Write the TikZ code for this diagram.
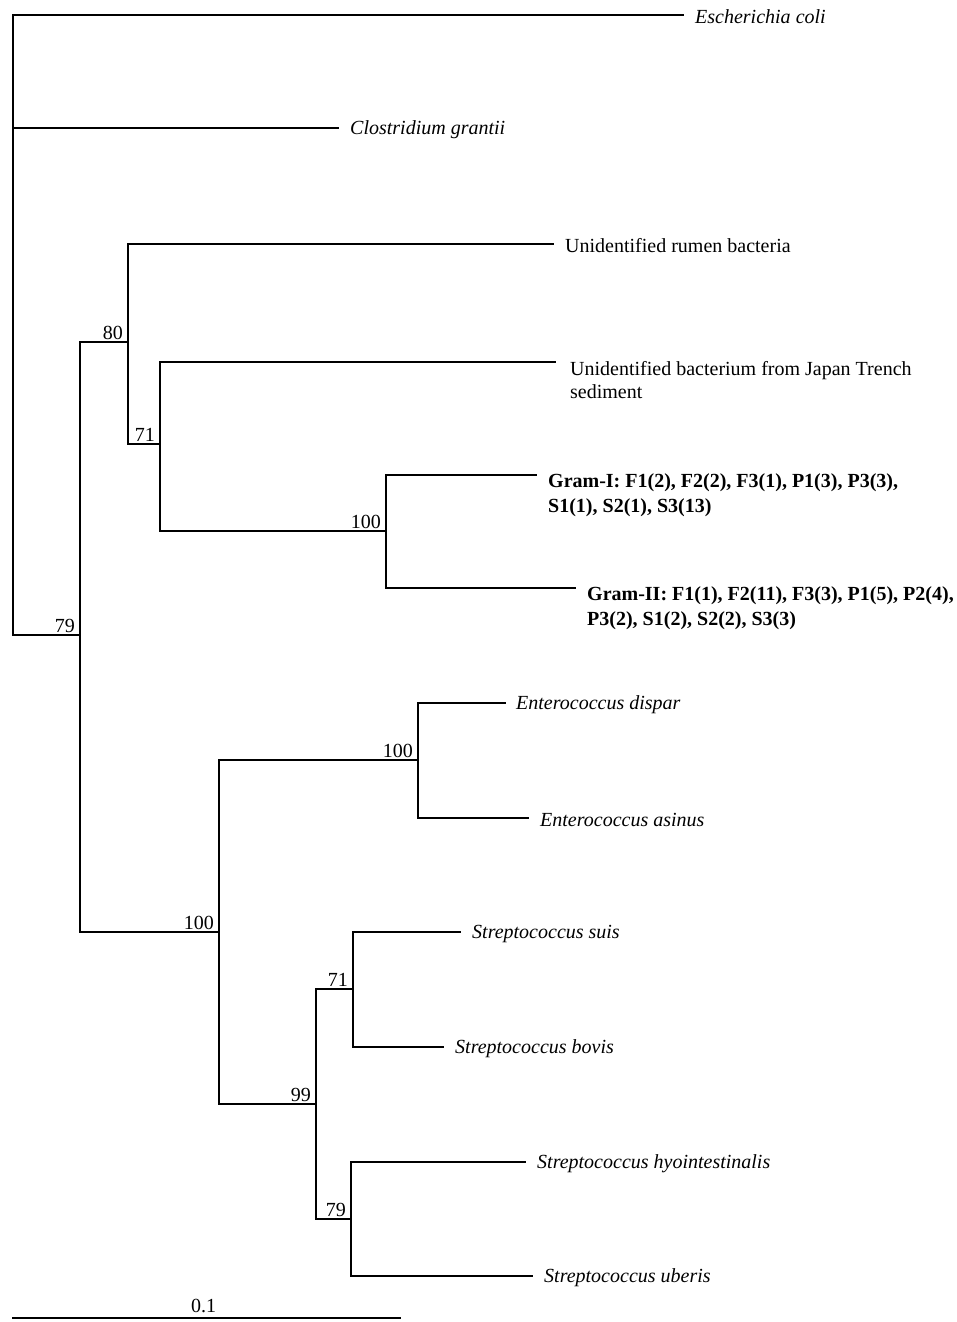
\documentclass[tikz,border=0pt]{standalone}
\usepackage{fontspec}
\setmainfont{Liberation Serif}
\usetikzlibrary{calc}
\begin{document}
\begin{tikzpicture}[x=1pt,y=-1pt,
  br/.style={line width=2pt,line cap=rect},
  leaf/.style={anchor=west,inner sep=0pt,font=\fontsize{20}{23}\selectfont},
  leafi/.style={leaf,font=\fontsize{20}{23}\selectfont\itshape},
  leafm/.style={leaf,align=left,anchor=north west},
  leafb/.style={leaf,font=\fontsize{20}{25}\selectfont\bfseries,align=left,anchor=north west},
  boot/.style={anchor=base east,inner sep=0pt,font=\fontsize{20}{22}\selectfont}]
\useasboundingbox (0,0) rectangle (957,1322);
% internal nodes
\coordinate (root) at (13,325);
\coordinate (n79) at (80,635);
\coordinate (n80) at (128,342);
\coordinate (n71) at (160,444);
\coordinate (ng) at (386,531);
\coordinate (n100) at (219,932);
\coordinate (ne) at (418,760);
\coordinate (n99) at (316,1104);
\coordinate (n71b) at (353,989);
\coordinate (n79b) at (351,1219);
% tips
\coordinate (tEc) at (683,15);
\coordinate (tCg) at (338,128);
\coordinate (tRu) at (553,244);
\coordinate (tJt) at (555,362);
\coordinate (tG1) at (536,475);
\coordinate (tG2) at (575,588);
\coordinate (tEd) at (505,703);
\coordinate (tEa) at (528,818);
\coordinate (tSs) at (460,932);
\coordinate (tSb) at (443,1047);
\coordinate (tSh) at (525,1162);
\coordinate (tSu) at (532,1276);
% branches
\draw[br] (root) |- (tEc);
\draw[br] (root) |- (tCg);
\draw[br] (root) |- (n79);
\draw[br] (n79) |- (n80);
\draw[br] (n79) |- (n100);
\draw[br] (n80) |- (tRu);
\draw[br] (n80) |- (n71);
\draw[br] (n71) |- (tJt);
\draw[br] (n71) |- (ng);
\draw[br] (ng) |- (tG1);
\draw[br] (ng) |- (tG2);
\draw[br] (n100) |- (ne);
\draw[br] (n100) |- (n99);
\draw[br] (ne) |- (tEd);
\draw[br] (ne) |- (tEa);
\draw[br] (n99) |- (n71b);
\draw[br] (n99) |- (n79b);
\draw[br] (n71b) |- (tSs);
\draw[br] (n71b) |- (tSb);
\draw[br] (n79b) |- (tSh);
\draw[br] (n79b) |- (tSu);
% leaf labels
\node[leafi] (lEc) at ([xshift=12pt,yshift=-2pt]tEc) {Escherichia coli};
\node[leafi] (lCg) at ([xshift=12pt,yshift=-2pt]tCg) {Clostridium grantii};
\node[leaf] (lRu) at ([xshift=12pt,yshift=-2pt]tRu) {Unidentified rumen bacteria};
\node[leafm] (lJt) at ([xshift=15pt,yshift=1pt]tJt) {Unidentified bacterium from Japan Trench\\sediment};
\node[leafb] (lG1) at ([xshift=12pt,yshift=2pt]tG1) {Gram-I: F1(2), F2(2), F3(1), P1(3), P3(3),\\S1(1), S2(1), S3(13)};
\node[leafb] (lG2) at ([xshift=12pt,yshift=2pt]tG2) {Gram-II: F1(1), F2(11), F3(3), P1(5), P2(4),\\P3(2), S1(2), S2(2), S3(3)};
\node[leafi] (lEd) at ([xshift=11pt,yshift=-2pt]tEd) {Enterococcus dispar};
\node[leafi] (lEa) at ([xshift=12pt,yshift=-2pt]tEa) {Enterococcus asinus};
\node[leafi] (lSs) at ([xshift=12pt,yshift=-2pt]tSs) {Streptococcus suis};
\node[leafi] (lSb) at ([xshift=12pt,yshift=-2pt]tSb) {Streptococcus bovis};
\node[leafi] (lSh) at ([xshift=12pt,yshift=-2pt]tSh) {Streptococcus hyointestinalis};
\node[leafi] (lSu) at ([xshift=12pt,yshift=-2pt]tSu) {Streptococcus uberis};
% bootstrap values
\node[boot] (b79) at ([xshift=-5pt,yshift=3pt]n79) {79};
\node[boot] (b80) at ([xshift=-5pt,yshift=3pt]n80) {80};
\node[boot] (b71) at ([xshift=-5pt,yshift=3pt]n71) {71};
\node[boot] (bg) at ([xshift=-5pt,yshift=3pt]ng) {100};
\node[boot] (b100) at ([xshift=-5pt,yshift=3pt]n100) {100};
\node[boot] (be) at ([xshift=-5pt,yshift=3pt]ne) {100};
\node[boot] (b99) at ([xshift=-5pt,yshift=3pt]n99) {99};
\node[boot] (b71b) at ([xshift=-5pt,yshift=3pt]n71b) {71};
\node[boot] (b79b) at ([xshift=-5pt,yshift=3pt]n79b) {79};
% scale bar
\coordinate (sbL) at (13,1318);
\coordinate (sbR) at (400,1318);
\draw[br] (sbL) -- (sbR);
\node[anchor=base,inner sep=0pt,font=\fontsize{20}{22}\selectfont] (sbl) at ([xshift=-3pt,yshift=6pt]$(sbL)!0.5!(sbR)$) {0.1};
\end{tikzpicture}
\end{document}
